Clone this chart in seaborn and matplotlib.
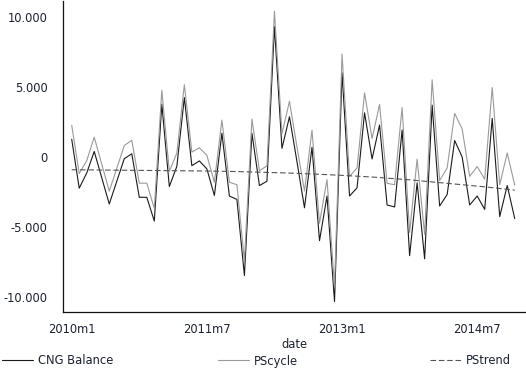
import pandas as pd
import matplotlib.pyplot as plt
import seaborn as sns

# monthly series 2010m1 .. 2014m12
cng_balance = [1250, -2250, -1160, 380, -1500, -3380, -1760, -140, 210, -2900,
               -2900, -4600, 3760, -2130, -690, 4230, -640, -300, -870, -2770,
               1680, -2810, -3050, -8490, 1680, -2060, -1750, 9300, 600, 2860,
               -355, -3650, 680, -6000, -2810, -10350, 6000, -2810, -2220, 3140,
               -160, 2270, -3450, -3590, 1910, -7070, -1870, -7300, 3690, -3520,
               -2700, 1160, -20, -3450, -2810, -3760, 2740, -4280, -2060, -4420]

ps_cycle = [2250, -1200, -280, 1400, -530, -2460, -830, 800, 1180, -1890,
            -1890, -3700, 4750, -1040, 260, 5150, 330, 640, 100, -1820,
            2620, -1820, -2000, -7450, 2700, -1000, -650, 10400, 1650, 3970,
            695, -2450, 1900, -4750, -1630, -9300, 7350, -1400, -800, 4560,
            1300, 3740, -1900, -2000, 3520, -5420, -170, -5550, 5500, -1700,
            -800, 3100, 1980, -1400, -700, -1610, 4950, -2000, 270, -2030]

ps_trend = [-930, -935, -940, -945, -950, -955, -960, -965, -970, -975,
            -980, -985, -990, -995, -1000, -1005, -1010, -1015, -1020, -1030,
            -1040, -1050, -1060, -1075, -1090, -1105, -1120, -1135, -1150, -1170,
            -1190, -1210, -1230, -1255, -1280, -1305, -1330, -1360, -1390, -1420,
            -1450, -1490, -1530, -1570, -1610, -1650, -1700, -1750, -1800, -1850,
            -1900, -1950, -2000, -2050, -2100, -2150, -2210, -2270, -2330, -2390]

tick_pos = [0, 18, 36, 54]
tick_labels = ["2010m1", "2011m7", "2013m1", "2014m7"]
y_ticks = [-10000, -5000, 0, 5000, 10000]

df = pd.DataFrame({"t": range(len(cng_balance)),
                   "CNG Balance": cng_balance,
                   "PScycle": ps_cycle,
                   "PStrend": ps_trend})

sns.set_style("white")
plt.rcParams["font.family"] = ["DejaVu Sans"]
plt.rcParams["font.size"] = 8

fig = plt.figure(figsize=(5.26, 3.72), dpi=100)
ax = fig.add_axes([63 / 526, 1 - 312 / 372, 1 - 63 / 526, 312 / 372 - 0.004])

sns.lineplot(data=df, x="t", y="CNG Balance", ax=ax, color="#1a1a1a", linewidth=0.8)
sns.lineplot(data=df, x="t", y="PScycle", ax=ax, color="#9a9a9a", linewidth=0.8)
sns.lineplot(data=df, x="t", y="PStrend", ax=ax, color="#555555", linewidth=0.8,
             linestyle=(0, (5, 2.5)))

ax.set_xlim(-1.16, 60.5)
ax.set_ylim(-11100, 11100)
ax.set_xticks(tick_pos)
ax.set_xticklabels(tick_labels)
ax.set_yticks(y_ticks)
ax.set_yticklabels([f"{v:,}".replace(",", ".") for v in y_ticks])
ax.tick_params(direction="in", length=4, width=0.8, colors="#111111",
               labelcolor="#1c2230", labelsize=8.3)
ax.tick_params(axis="x", pad=8)
ax.tick_params(axis="y", pad=11)
ax.set_xlabel("date", fontsize=8.3, color="#1c2230", labelpad=1)
ax.set_ylabel("")
for side in ["top", "right"]:
    ax.spines[side].set_visible(False)
for side in ["left", "bottom"]:
    ax.spines[side].set_color("#111111")
    ax.spines[side].set_linewidth(0.9)

# legend below the plot, three entries spread out
lines = ax.get_lines()
names = ["CNG Balance", "PScycle", "PStrend"]
for line, name, xpos in zip(lines, names, [2 / 526, 218 / 526, 430 / 526]):
    fig.legend([line], [name], loc="center left", bbox_to_anchor=(xpos, 1 - 361 / 372),
               frameon=False, borderpad=0, borderaxespad=0, handlelength=2.7,
               handletextpad=0.45, fontsize=8.3, labelcolor="#1c2230")

fig.savefig("out.png", dpi=100)
